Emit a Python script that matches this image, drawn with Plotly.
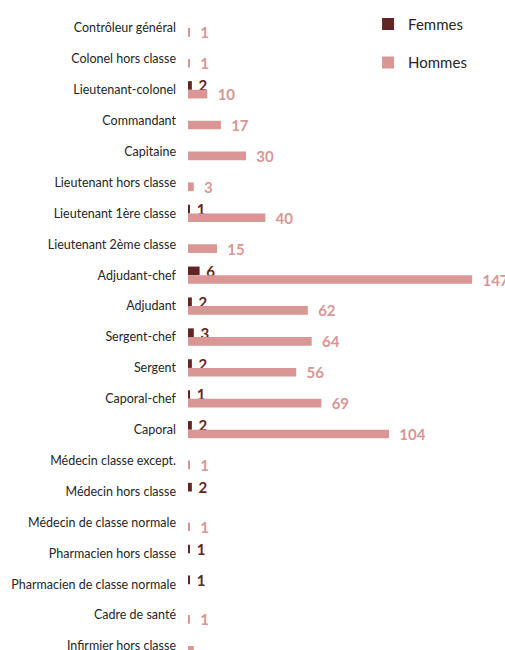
import plotly.graph_objects as go

categories = [
    "Contrôleur général", "Colonel hors classe", "Lieutenant-colonel", "Commandant",
    "Capitaine", "Lieutenant hors classe", "Lieutenant 1ère classe", "Lieutenant 2ème classe",
    "Adjudant-chef", "Adjudant", "Sergent-chef", "Sergent", "Caporal-chef", "Caporal",
    "Médecin classe except.", "Médecin hors classe", "Médecin de classe normale",
    "Pharmacien hors classe", "Pharmacien de classe normale", "Cadre de santé",
    "Infirmier hors classe",
]
femmes = [0, 0, 2, 0, 0, 0, 1, 0, 6, 2, 3, 2, 1, 2, 0, 2, 0, 1, 1, 0, 0]
hommes = [1, 1, 10, 17, 30, 3, 40, 15, 147, 62, 64, 56, 69, 104, 1, 0, 1, 0, 0, 1, 3]

C_F = "#632523"
C_H = "#D99694"
FONT = "Lato"

fig = go.Figure()
fig.add_trace(go.Bar(
    name="Femmes", y=categories, x=femmes, orientation="h",
    marker=dict(color=C_F, line=dict(width=0)),
    text=["\u00a0" + str(v) if v else "" for v in femmes], textposition="outside",
    textfont=dict(family=FONT, size=15, color=C_F, weight="bold"),
    constraintext="none", cliponaxis=False, legendgroup="f",
))
fig.add_trace(go.Bar(
    name="Hommes", y=categories, x=hommes, orientation="h",
    marker=dict(color=C_H, line=dict(width=0)),
    text=["\u00a0\u00a0" + str(v) if v else "" for v in hommes], textposition="outside",
    textfont=dict(family=FONT, size=15, color=C_H, weight="bold"),
    constraintext="none", cliponaxis=False, legendgroup="h",
))

fig.update_layout(
    width=505, height=650,
    margin=dict(l=188, r=0, t=0, b=0),
    paper_bgcolor="white", plot_bgcolor="white",
    barmode="group", bargap=0.44, bargroupgap=0,
    font=dict(family=FONT, color="#262626"),
    showlegend=True,
    legend=dict(
        x=0.568, y=0.988, xanchor="left", yanchor="top",
        font=dict(family=FONT, size=15, color="#262626"),
        traceorder="grouped", tracegroupgap=16, itemwidth=30,
        bgcolor="rgba(0,0,0,0)",
    ),
    xaxis=dict(range=[0, 164], visible=False, showgrid=False, zeroline=False),
    yaxis=dict(
        range=[20.13, -0.906], showgrid=False, zeroline=False, showline=False,
        ticks="", tickfont=dict(family=FONT, size=12.5, color="#262626"),
        ticklabelstandoff=11, automargin=False,
    ),
)

fig.write_html("out.html")
